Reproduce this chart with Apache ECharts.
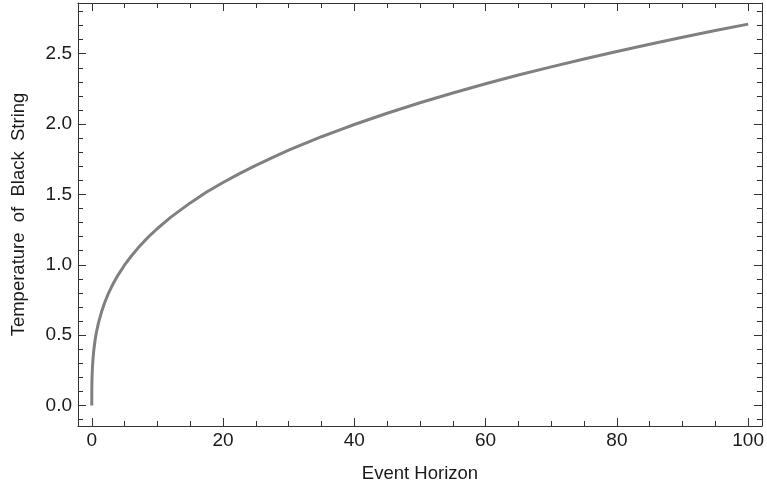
<!DOCTYPE html>
<html>
<head>
<meta charset="utf-8">
<script src="https://cdn.jsdelivr.net/npm/echarts@6/dist/echarts.min.js"></script>
<style>
html,body{margin:0;padding:0;background:#fff;}
#chart{width:767px;height:488px;}
</style>
</head>
<body>
<div id="chart"></div>
<script>
// Data
var horizon = [0, 0.003, 0.01, 0.03, 0.05, 0.1, 0.2, 0.3, 0.5, 0.7, 1, 1.5, 2, 2.5, 3, 3.5, 4, 5, 6, 7, 8, 9, 10, 12, 15, 17.5, 20, 22.5, 25, 27.5, 30, 32.5, 35, 37.5, 40, 45, 50, 55, 60, 65, 70, 75, 80, 85, 90, 95, 100];
var temperature = [0, 0.084, 0.126, 0.181, 0.215, 0.271, 0.341, 0.391, 0.464, 0.520, 0.584, 0.668, 0.736, 0.793, 0.842, 0.887, 0.927, 0.999, 1.061, 1.117, 1.168, 1.215, 1.258, 1.337, 1.440, 1.517, 1.585, 1.648, 1.707, 1.762, 1.814, 1.863, 1.910, 1.954, 1.997, 2.077, 2.151, 2.221, 2.286, 2.348, 2.406, 2.462, 2.516, 2.567, 2.617, 2.664, 2.710];
var xMajorTicks = [0, 20, 40, 60, 80, 100];
var xMinorTicks = [5, 10, 15, 25, 30, 35, 45, 50, 55, 65, 70, 75, 85, 90, 95];
var yMajorTicks = [0, 0.5, 1, 1.5, 2, 2.5];
var yMinorTicks = [-0.1, 0.1, 0.2, 0.3, 0.4, 0.6, 0.7, 0.8, 0.9, 1.1, 1.2, 1.3, 1.4, 1.6, 1.7, 1.8, 1.9, 2.1, 2.2, 2.3, 2.4, 2.6, 2.7, 2.8];
var xTitle = 'Event Horizon';
var yTitle = 'Temperature  of  Black  String';

var X_MIN = -2.1, X_MAX = 102.1, Y_MIN = -0.145, Y_MAX = 2.86;
var FONT = 'Liberation Sans, Arial, sans-serif';
var FS_TICK = 19;
var FS_TITLE = 18.5;
var AX = '#333';
var TXT = '#1a1a1a';

function xAxisDef(pos, ticks, len, showLine, labels, name) {
  return {
    type: 'value', position: pos, min: X_MIN, max: X_MAX,
    axisLine: {show: showLine, onZero: false, lineStyle: {color: AX, width: 1}},
    axisTick: {show: true, inside: true, length: len, customValues: ticks, lineStyle: {color: AX, width: 1}},
    axisLabel: labels ? {show: true, customValues: ticks, margin: 5, fontSize: FS_TICK, fontFamily: FONT, color: TXT,
      formatter: function (v) { return String(v); }} : {show: false},
    splitLine: {show: false},
    name: name || '', nameLocation: 'middle', nameGap: 38,
    nameTextStyle: {fontSize: FS_TITLE, fontFamily: FONT, color: TXT}
  };
}
function yAxisDef(pos, ticks, len, showLine, labels, name) {
  return {
    type: 'value', position: pos, min: Y_MIN, max: Y_MAX,
    axisLine: {show: showLine, onZero: false, lineStyle: {color: AX, width: 1}},
    axisTick: {show: true, inside: true, length: len, customValues: ticks, lineStyle: {color: AX, width: 1}},
    axisLabel: labels ? {show: true, customValues: ticks, margin: 6, fontSize: FS_TICK, fontFamily: FONT, color: TXT,
      formatter: function (v) { return v.toFixed(1); }} : {show: false},
    splitLine: {show: false},
    name: name || '', nameLocation: 'middle', nameGap: 50, nameRotate: 90,
    nameTextStyle: {fontSize: FS_TITLE, fontFamily: FONT, color: TXT}
  };
}

var chart = echarts.init(document.getElementById('chart'));
var points = horizon.map(function (x, i) { return [x, temperature[i]]; });
chart.setOption({
  animation: false,
  backgroundColor: '#ffffff',
  grid: {left: 78, top: 3, right: 2, bottom: 61, containLabel: false},
  xAxis: [
    xAxisDef('bottom', xMajorTicks, 8, true, true, xTitle),
    xAxisDef('bottom', xMinorTicks, 5, false, false),
    xAxisDef('top', xMajorTicks, 8, true, false),
    xAxisDef('top', xMinorTicks, 5, false, false)
  ],
  yAxis: [
    yAxisDef('left', yMajorTicks, 8, true, true, yTitle),
    yAxisDef('left', yMinorTicks, 5, false, false),
    yAxisDef('right', yMajorTicks, 8, true, false),
    yAxisDef('right', yMinorTicks, 5, false, false)
  ],
  series: [{
    type: 'line', xAxisIndex: 0, yAxisIndex: 0,
    data: points, showSymbol: false, smooth: false,
    lineStyle: {color: '#808080', width: 3, join: 'round'}
  }]
});
</script>
</body>
</html>
